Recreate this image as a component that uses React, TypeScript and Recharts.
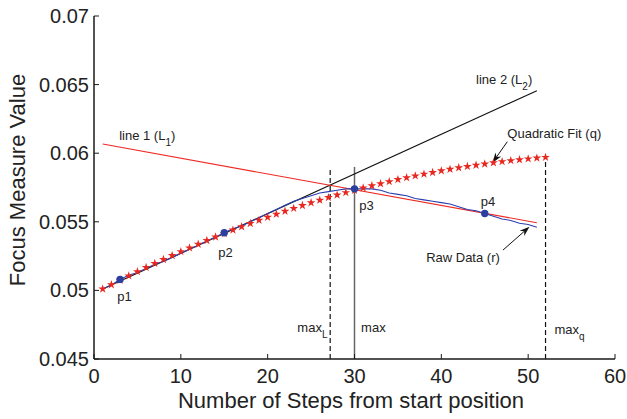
import { ComposedChart, Line, Scatter, XAxis, YAxis, ZAxis, ReferenceLine } from 'recharts';

const FONT = '"Liberation Sans", Arial, Helvetica, sans-serif';

// x positions (step numbers)
const fitSteps = [
  1, 2, 3, 4, 5, 6, 7, 8, 9, 10, 11, 12, 13, 14, 15, 16, 17, 18, 19, 20, 21, 22, 23, 24, 25, 26,
  27, 28, 29, 30, 31, 32, 33, 34, 35, 36, 37, 38, 39, 40, 41, 42, 43, 44, 45, 46, 47, 48, 49, 50, 51, 52,
];
// quadratic fit (q), red stars
const quadFit = [
  0.0501, 0.05042, 0.05074, 0.05106, 0.05137, 0.05167, 0.05197, 0.05226, 0.05254, 0.05283,
  0.0531, 0.05337, 0.05364, 0.0539, 0.05415, 0.0544, 0.05464, 0.05488, 0.05511, 0.05534,
  0.05556, 0.05577, 0.05598, 0.05619, 0.05639, 0.05658, 0.05677, 0.05695, 0.05713, 0.0573,
  0.05747, 0.05763, 0.05778, 0.05793, 0.05808, 0.05822, 0.05835, 0.05848, 0.0586, 0.05872,
  0.05883, 0.05894, 0.05904, 0.05913, 0.05922, 0.05931, 0.05939, 0.05946, 0.05953, 0.05959,
  0.05965, 0.0597,
];

const rawSteps = [
  1, 2, 3, 4, 5, 6, 7, 8, 9, 10, 11, 12, 13, 14, 15, 16, 17, 18, 19, 20, 21, 22, 23, 24, 25, 26,
  27, 28, 29, 30, 31, 32, 33, 34, 35, 36, 37, 38, 39, 40, 41, 42, 43, 44, 45, 46, 47, 48, 49, 50, 51,
];
// raw data (r), blue line
const rawData = [
  0.0501, 0.0504, 0.0508, 0.0511, 0.0513, 0.0516, 0.0519, 0.0521, 0.0524, 0.0527,
  0.053, 0.0533, 0.0536, 0.0539, 0.0542, 0.0545, 0.0547, 0.055, 0.0553, 0.0556,
  0.0559, 0.0562, 0.0565, 0.0567, 0.0569, 0.0571, 0.0572, 0.0573, 0.0574, 0.0574,
  0.0574, 0.0574, 0.0573, 0.0571, 0.057, 0.0569, 0.0567, 0.0566, 0.0565, 0.0564,
  0.0563, 0.0561, 0.0559, 0.0558, 0.0556, 0.0554, 0.0552, 0.0551, 0.0549, 0.0548, 0.0546,
];

const lineSteps = [1, 51];
const line1 = [0.06067, 0.05493];
const line2 = [0.0501, 0.06456];

const pointSteps = [3, 15, 30, 45];
const pointValues = [0.0508, 0.0542, 0.0574, 0.0556];

// vertical markers: maxL (dashed), max (solid), maxq (dashed)
const markerSteps = [27.2, 30, 52];
const markerTops = [0.0589, 0.059, 0.0597];
const markerDashed = [true, false, true];

const xTicks = [0, 10, 20, 30, 40, 50, 60];
const yTicks = [0.045, 0.05, 0.055, 0.06, 0.065, 0.07];
const yTickLabels = ['0.045', '0.05', '0.055', '0.06', '0.065', '0.07'];

// text annotations: anchor in data units
const notes = [
  { x: 2.9, y: 0.06096, text: 'line 1 (L', sub: '1', after: ')' },
  { x: 44.0, y: 0.06504, text: 'line 2 (L', sub: '2', after: ')' },
  { x: 47.6, y: 0.06109, text: 'Quadratic Fit (q)' },
  { x: 38.25, y: 0.05209, text: 'Raw Data (r)' },
  { x: 2.68, y: 0.04923, text: 'p1' },
  { x: 14.3, y: 0.05243, text: 'p2' },
  { x: 30.56, y: 0.05586, text: 'p3' },
  { x: 44.55, y: 0.05617, text: 'p4' },
  { x: 23.42, y: 0.04695, text: 'max', sub: 'L' },
  { x: 30.76, y: 0.04695, text: 'max' },
  { x: 53.03, y: 0.0468, text: 'max', sub: 'q' },
];

// arrows: [from, to]
const arrows = [
  [{ x: 47.6, y: 0.06084 }, { x: 45.9, y: 0.05931 }],
  [{ x: 47.1, y: 0.05294 }, { x: 50.15, y: 0.05464 }],
];

const quadData = fitSteps.map((x, i) => ({ x, y: quadFit[i] }));
const rawSeries = rawSteps.map((x, i) => ({ x, y: rawData[i] }));
const line1Data = lineSteps.map((x, i) => ({ x, y: line1[i] }));
const line2Data = lineSteps.map((x, i) => ({ x, y: line2[i] }));
const pointData = pointSteps.map((x, i) => ({ x, y: pointValues[i] }));

const AXIS = '#1a1a1a';

const BottomTick = ({ x, y, payload }: any) => (
  <g>
    <line x1={x} x2={x} y1={y} y2={y - 5} stroke={AXIS} strokeWidth={1} />
    <text x={x} y={y + 24} textAnchor="middle" fontSize={20} fontFamily={FONT} fill="#222">
      {payload.value}
    </text>
  </g>
);

const LeftTick = ({ x, y, payload, index }: any) => (
  <g>
    <line x1={x} x2={x + 5} y1={y} y2={y} stroke={AXIS} strokeWidth={1} />
    <text x={x - 5} y={y + 7} textAnchor="end" fontSize={20} fontFamily={FONT} fill="#222">
      {yTickLabels[index] ?? payload.value}
    </text>
  </g>
);

const TopTick = ({ x, y }: any) => <line x1={x} x2={x} y1={y} y2={y + 5} stroke={AXIS} strokeWidth={1} />;
const RightTick = ({ x, y }: any) => <line x1={x} x2={x - 5} y1={y} y2={y} stroke={AXIS} strokeWidth={1} />;

const Dot = ({ cx, cy }: any) => <circle cx={cx} cy={cy} r={3.7} fill="#2b3f9f" />;

const Note = ({ cx, cy, payload }: any) => (
  <text x={cx} y={cy} fontSize={13} fontFamily={FONT} fill="#222">
    {payload.text}
    {payload.sub && (
      <tspan dy={6} fontSize={10}>
        {payload.sub}
      </tspan>
    )}
    {payload.after && <tspan dy={-6}>{payload.after}</tspan>}
  </text>
);

const ArrowShape = ({ x1, y1, x2, y2 }: any) => {
  const a = Math.atan2(y2 - y1, x2 - x1);
  const len = 10;
  const half = 3.5;
  const bx = x2 - len * Math.cos(a);
  const by = y2 - len * Math.sin(a);
  const nx = x2 - 7 * Math.cos(a);
  const ny = y2 - 7 * Math.sin(a);
  const pts = [
    `${x2},${y2}`,
    `${bx - half * Math.sin(a)},${by + half * Math.cos(a)}`,
    `${nx},${ny}`,
    `${bx + half * Math.sin(a)},${by - half * Math.cos(a)}`,
  ].join(' ');
  return (
    <g>
      <line x1={x1} y1={y1} x2={nx} y2={ny} stroke="#111" strokeWidth={1} />
      <polygon points={pts} fill="#111" />
    </g>
  );
};

const XTitle = () => (
  <text x={351} y={408} textAnchor="middle" fontSize={22} fontFamily={FONT} fill="#222">
    Number of Steps from start position
  </text>
);

const YTitle = () => (
  <text
    x={25}
    y={180}
    transform="rotate(-90 25 180)"
    textAnchor="middle"
    fontSize={22}
    fontFamily={FONT}
    fill="#222"
  >
    Focus Measure Value
  </text>
);

export default function App() {
  return (
    <div style={{ position: 'absolute', left: 0, top: 0, width: 627, height: 419, background: '#fff' }}>
      <ComposedChart width={627} height={419} margin={{ top: 16, right: 12, bottom: 0, left: 0 }}>
        <XAxis
          dataKey="x"
          type="number"
          domain={[0, 60]}
          ticks={xTicks}
          height={60}
          tickSize={0}
          tickMargin={0}
          tickLine={false}
          tick={<BottomTick />}
          axisLine={{ stroke: AXIS, strokeWidth: 1.5 }}
          label={{ content: <XTitle /> }}
        />
        <XAxis
          xAxisId="top"
          orientation="top"
          type="number"
          domain={[0, 60]}
          ticks={xTicks}
          height={0}
          tickSize={0}
          tickMargin={0}
          tickLine={false}
          tick={<TopTick />}
          axisLine={{ stroke: AXIS, strokeWidth: 1.5 }}
        />
        <YAxis
          dataKey="y"
          type="number"
          domain={[0.045, 0.07]}
          ticks={yTicks}
          width={94}
          tickSize={0}
          tickMargin={0}
          tickLine={false}
          tick={<LeftTick />}
          axisLine={{ stroke: AXIS, strokeWidth: 1.5 }}
          allowDataOverflow
          label={{ content: <YTitle /> }}
        />
        <YAxis
          yAxisId="right"
          orientation="right"
          type="number"
          domain={[0.045, 0.07]}
          ticks={yTicks}
          width={0}
          tickSize={0}
          tickMargin={0}
          tickLine={false}
          tick={<RightTick />}
          axisLine={{ stroke: AXIS, strokeWidth: 1.5 }}
        />
        <ZAxis range={[24, 24]} />

        {markerSteps.map((s, i) => (
          <ReferenceLine
            key={`m${i}`}
            segment={[
              { x: s, y: 0.045 },
              { x: s, y: markerTops[i] },
            ]}
            stroke={markerDashed[i] ? '#111' : '#666'}
            strokeWidth={markerDashed[i] ? 1.2 : 1.5}
            strokeDasharray={markerDashed[i] ? '5 3' : undefined}
          />
        ))}

        <Line data={line2Data} dataKey="y" stroke="#111" strokeWidth={1.1} dot={false} activeDot={false} isAnimationActive={false} />
        <Line data={line1Data} dataKey="y" stroke="#ee2a24" strokeWidth={1.1} dot={false} activeDot={false} isAnimationActive={false} />
        <Line data={rawSeries} dataKey="y" type="linear" stroke="#2a3fb0" strokeWidth={1.1} dot={false} activeDot={false} isAnimationActive={false} />
        <Scatter data={quadData} shape="star" fill="#e8281f" isAnimationActive={false} />
        <Scatter data={pointData} shape={<Dot />} isAnimationActive={false} />
        <Scatter data={notes} shape={<Note />} isAnimationActive={false} />

        {arrows.map((seg, i) => (
          <ReferenceLine key={`a${i}`} segment={seg} shape={<ArrowShape />} />
        ))}
      </ComposedChart>
    </div>
  );
}
